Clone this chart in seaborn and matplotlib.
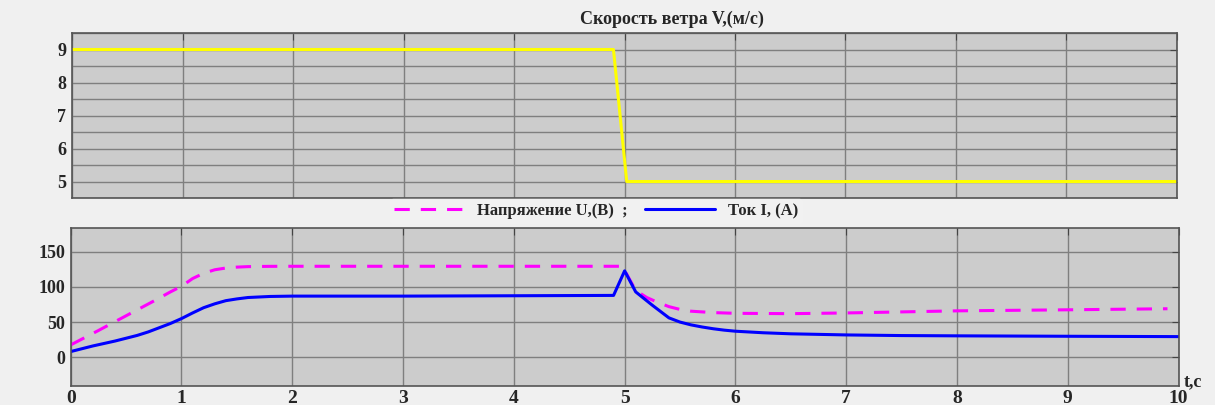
import numpy as np
import pandas as pd
import matplotlib
matplotlib.use("Agg")
import matplotlib.pyplot as plt
import seaborn as sns

# ---- data ----
wind_t = [0.0, 4.9, 5.02, 10.0]
wind_v = [9.0, 9.0, 5.0, 5.0]

u_t = [0.0, 0.25, 0.5, 0.75, 0.9, 1.0, 1.1, 1.2, 1.3, 1.4, 1.5, 1.6, 1.8, 2.0, 3.0, 4.0, 4.98,
       5.1, 5.2, 5.3, 5.4, 5.5, 5.6, 5.8, 6.0, 6.5, 7.0, 7.5, 8.0, 9.0, 9.9]
u_v = [17.5, 38, 59, 80, 93, 101, 112, 119.5, 124.5, 127, 128.3, 129, 129.4, 129.5, 129.5, 129.5, 129.5,
       95, 85, 78, 72, 68, 65.5, 63.5, 62.5, 62, 63, 64.5, 66, 67.5, 69]

i_t = [0.0, 0.1, 0.2, 0.3, 0.4, 0.5, 0.6, 0.7, 0.8, 0.9, 1.0, 1.1, 1.2, 1.3, 1.4, 1.5, 1.6, 1.8, 2.0,
       3.0, 4.0, 4.9, 5.0, 5.1, 5.25, 5.4, 5.5, 5.6, 5.7, 5.8, 5.9, 6.0, 6.25, 6.5, 7.0, 7.5, 8.0, 9.0, 10.0]
i_v = [8, 12, 16, 19.5, 23, 27, 31, 36, 42, 48, 55, 63, 70.5, 76, 80.5, 83, 85, 86.5, 87,
       87, 87.5, 88, 123, 93, 74, 56, 50, 46, 43, 40.5, 38.5, 37, 34.8, 33.3, 31.7, 30.8, 30.4, 29.8, 29.3]

x_ticks = [0, 1, 2, 3, 4, 5, 6, 7, 8, 9, 10]
top_yticks = [5, 6, 7, 8, 9]
bot_yticks = [0, 50, 100, 150]

title_top = "Скорость ветра V,(м/с)"
label_u = "Напряжение U,(В)  ;"
label_i = "Ток I, (А)"

sns.set_style("white")
plt.rcParams['font.family'] = ['Liberation Serif', 'DejaVu Serif']
plt.rcParams['font.weight'] = 'bold'

fig = plt.figure(figsize=(12.15, 4.05), dpi=100)
fig.patch.set_facecolor('#f0f0f0')

ax1 = fig.add_axes([0.0593, 0.511, 0.9094, 0.4075])
ax2 = fig.add_axes([0.0582, 0.047, 0.9118, 0.390])

grid_c = '#7f7f7f'
for ax in (ax1, ax2):
    ax.set_facecolor('#cccccc')
    for s in ax.spines.values():
        s.set_color('#555555')
        s.set_linewidth(1.2)
    ax.set_xlim(0, 10)
    ax.set_xticks(x_ticks)
    ax.tick_params(direction='in', length=5, color='#444444', labelsize=13,
                   right=True, top=True, pad=4)

# top panel
df_w = pd.DataFrame({'t': wind_t, 'v': wind_v})
sns.lineplot(data=df_w, x='t', y='v', ax=ax1, color='#ffff00', linewidth=2.2)
ax1.set_ylim(4.5, 9.5)
ax1.set_yticks(top_yticks)
ax1.set_yticks(np.arange(4.5, 9.6, 0.5), minor=True)
ax1.grid(True, which='both', axis='y', color=grid_c, linewidth=1.0)
ax1.grid(True, which='major', axis='x', color=grid_c, linewidth=1.0)
ax1.set_axisbelow(True)
ax1.tick_params(axis='x', labelbottom=False)
ax1.tick_params(which='minor', length=0)
for lab in ax1.get_yticklabels():
    lab.set_fontweight('bold')
ax1.set_xlabel('')
ax1.set_ylabel('')

fig.text(672 / 1215, 1 - 19 / 405, title_top, ha='center', va='center',
         fontsize=13, fontweight='bold')

# bottom panel
df_u = pd.DataFrame({'t': u_t, 'v': u_v})
df_i = pd.DataFrame({'t': i_t, 'v': i_v})
sns.lineplot(data=df_u, x='t', y='v', ax=ax2, color='#ff00ff', linewidth=2.2,
             linestyle=(0, (5, 3.6)), label=label_u)
sns.lineplot(data=df_i, x='t', y='v', ax=ax2, color='#0000ff', linewidth=2.2,
             label=label_i)
ax2.set_ylim(-41, 184)
ax2.set_yticks(bot_yticks)
ax2.grid(True, which='major', color=grid_c, linewidth=1.0)
ax2.set_axisbelow(True)
ax2.set_xlabel('')
ax2.set_ylabel('')
for lab in ax2.get_yticklabels() + ax2.get_xticklabels():
    lab.set_fontweight('bold')
ax2.tick_params(axis='x', labelsize=14, pad=3)

h, l = ax2.get_legend_handles_labels()
ax2.legend_.remove()
leg = fig.legend(h, l, loc='center', bbox_to_anchor=(596 / 1215, 1 - 211 / 405),
                 ncol=2, frameon=True, fontsize=12, handlelength=4.2,
                 columnspacing=1.0, borderpad=0.25, handletextpad=0.8)
leg.get_frame().set_facecolor('#f2f2f2')
leg.get_frame().set_edgecolor('#f2f2f2')
for t in leg.get_texts():
    t.set_fontweight('bold')

fig.text(1193 / 1215, 1 - 382 / 405, 't,c', ha='center', va='center',
         fontsize=13, fontweight='bold')

fig.savefig('out.png', dpi=100, facecolor=fig.get_facecolor())
